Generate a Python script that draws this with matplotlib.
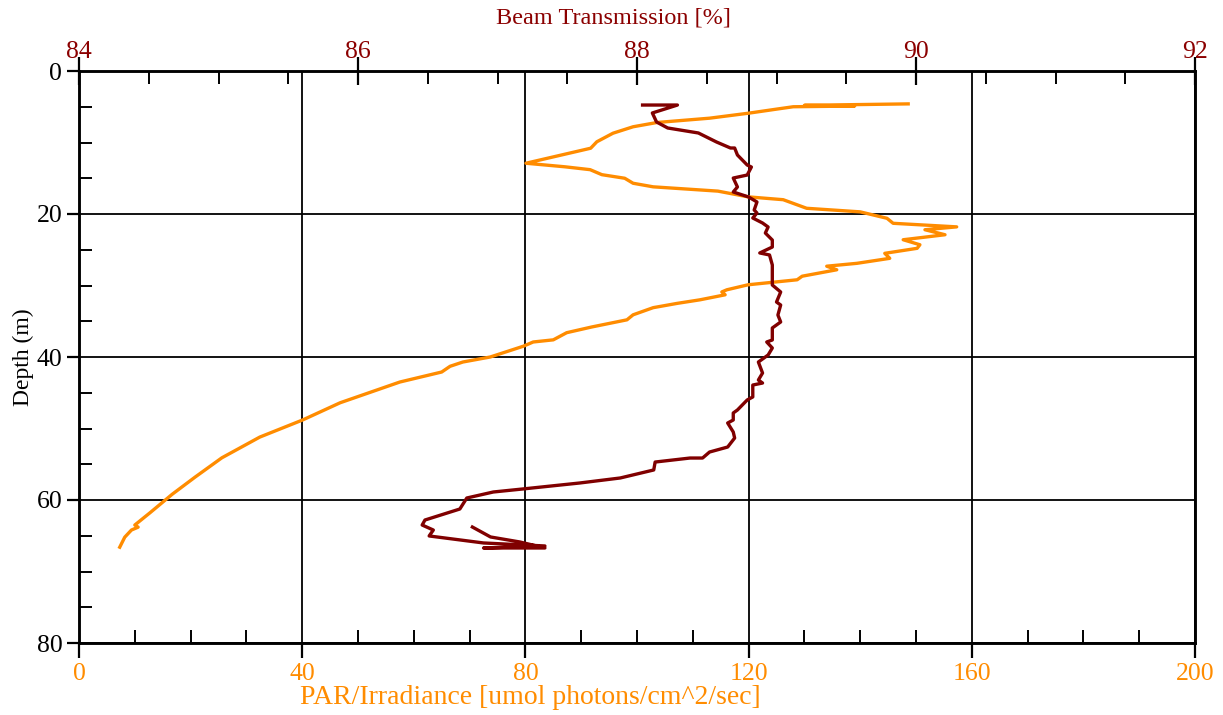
import numpy as np
import matplotlib
matplotlib.use('Agg')
import matplotlib.pyplot as plt
from matplotlib.ticker import MultipleLocator

plt.rcParams['font.family'] = ['Liberation Serif', 'DejaVu Serif']

# PAR / irradiance profile (bottom axis)
par_depth = [4.6, 4.8, 4.9, 5.0, 5.3, 5.9, 6.6, 7.2, 7.8, 8.7, 9.9, 10.8, 12.9, 13.4, 13.8,
             14.5, 15.0, 15.7, 16.2, 16.8, 17.6, 18.0, 19.2, 19.7, 20.6, 21.3, 21.8, 22.2,
             22.9, 23.6, 24.3, 24.8, 25.5, 26.2, 26.9, 27.3, 27.8, 28.7, 29.2, 29.9, 30.6,
             30.9, 31.3, 32.0, 32.5, 33.1, 34.1, 34.8, 35.8, 36.6, 37.6, 37.9, 38.5, 40.0,
             40.7, 41.3, 42.1, 43.5, 46.4, 48.8, 51.2, 54.1, 56.8, 59.2, 61.8, 63.5, 63.8,
             64.2, 65.2, 66.6]
par_value = [148.6, 130.0, 139.0, 128.0, 125.3, 120.0, 113.0, 103.6, 99.3, 95.7, 92.8, 91.7,
             80.1, 87.1, 91.6, 93.7, 97.8, 99.3, 102.9, 114.5, 119.9, 126.2, 130.4, 140.0,
             144.8, 145.9, 157.3, 151.6, 155.2, 147.7, 150.7, 150.2, 144.4, 145.3, 139.4,
             134.0, 135.8, 129.6, 128.7, 119.9, 116.1, 115.2, 115.8, 111.3, 107.2, 102.9,
             99.3, 98.2, 91.9, 87.4, 85.0, 81.4, 79.6, 73.7, 68.8, 66.5, 65.0, 57.5, 46.8,
             40.1, 32.4, 25.6, 20.8, 16.7, 12.7, 10.0, 10.6, 9.4, 8.2, 7.3]

# beam transmission profile (top axis)
bt_depth = [4.76, 4.76, 5.87, 7.13, 7.97, 8.67, 9.93, 10.77, 10.77, 11.75, 13.15, 13.43, 14.55,
            14.97, 16.22, 16.92, 17.62, 18.32, 19.44, 19.86, 20.56, 21.26, 21.82, 22.66,
            23.64, 24.62, 25.45, 25.73, 27.13, 27.55, 29.93, 30.91, 32.31, 32.73, 34.13,
            35.10, 35.94, 37.62, 37.90, 38.74, 39.72, 40.70, 42.24, 43.22, 43.64, 43.92,
            45.59, 46.01, 47.41, 47.83, 48.81, 49.23, 50.49, 51.33, 52.59, 53.29, 54.13,
            54.13, 54.69, 55.80, 56.92, 57.62, 58.46, 58.88, 59.72, 61.26, 62.80, 63.50,
            64.20, 65.03, 66.01, 66.43, 66.71, 66.71, 65.87, 65.17, 63.78]
bt_value = [88.04, 88.29, 88.11, 88.14, 88.22, 88.44, 88.57, 88.67, 88.70, 88.72, 88.79, 88.82,
            88.79, 88.69, 88.72, 88.69, 88.80, 88.86, 88.84, 88.86, 88.83, 88.90, 88.94,
            88.92, 88.97, 88.97, 88.88, 88.95, 88.97, 88.97, 88.97, 89.03, 89.00, 89.03,
            89.01, 89.03, 88.97, 88.97, 88.93, 88.97, 88.94, 88.87, 88.90, 88.87, 88.90,
            88.83, 88.83, 88.79, 88.72, 88.69, 88.69, 88.65, 88.69, 88.70, 88.65, 88.52,
            88.47, 88.38, 88.13, 88.12, 87.88, 87.59, 87.18, 86.97, 86.78, 86.73, 86.48,
            86.46, 86.54, 86.51, 86.90, 87.34, 86.90, 87.34, 87.16, 86.95, 86.82]

orange = '#FF8C00'
maroon = '#800000'

fig = plt.figure(figsize=(12.23, 7.15), dpi=100)
ax = fig.add_axes([79/1223, 1 - 643/715, 1116/1223, 572/715])
ax2 = ax.twiny()

ax2.plot(bt_value, bt_depth, color=maroon, lw=2.4, zorder=3)
ax.plot(par_value, par_depth, color=orange, lw=2.4, zorder=3)

ax.set_xlim(0, 200)
ax.set_ylim(80, 0)
ax2.set_xlim(84, 92)

ax.xaxis.set_major_locator(MultipleLocator(40))
ax.xaxis.set_minor_locator(MultipleLocator(10))
ax.yaxis.set_major_locator(MultipleLocator(20))
ax.yaxis.set_minor_locator(MultipleLocator(5))
ax2.xaxis.set_major_locator(MultipleLocator(2))
ax2.xaxis.set_minor_locator(MultipleLocator(0.5))

ax.grid(True, which='major', color='black', lw=1.3)
ax.set_axisbelow(True)

for a in (ax, ax2):
    for s in a.spines.values():
        s.set_linewidth(1.8)

ax.tick_params(axis='x', which='major', direction='out', length=11, width=1.6,
               labelsize=18.5, labelcolor=orange, pad=3.5)
ax.tick_params(axis='x', which='minor', direction='in', length=9.5, width=1.4)
ax.tick_params(axis='y', which='major', direction='out', length=9, width=1.6,
               labelsize=18.5, labelcolor='black', pad=3)
ax.tick_params(axis='y', which='minor', direction='in', length=9.5, width=1.4)
ax2.tick_params(axis='x', which='major', direction='inout', length=19.5, width=1.6,
                labelsize=18.5, labelcolor='#8B0000', pad=-4)
ax2.tick_params(axis='x', which='minor', direction='in', length=9.5, width=1.4)

ax.set_xlabel('PAR/Irradiance [umol photons/cm^2/sec]', color=orange, fontsize=20)
ax.xaxis.set_label_coords(0.404, -0.073)
ax.set_ylabel('Depth (m)', fontsize=17)
ax.yaxis.set_label_coords(-0.040, 0.5)
ax2.set_xlabel('Beam Transmission [%]', color='#8B0000', fontsize=17.5)
ax2.xaxis.set_label_coords(0.479, 1.083)

fig.savefig('out.png', dpi=100)
